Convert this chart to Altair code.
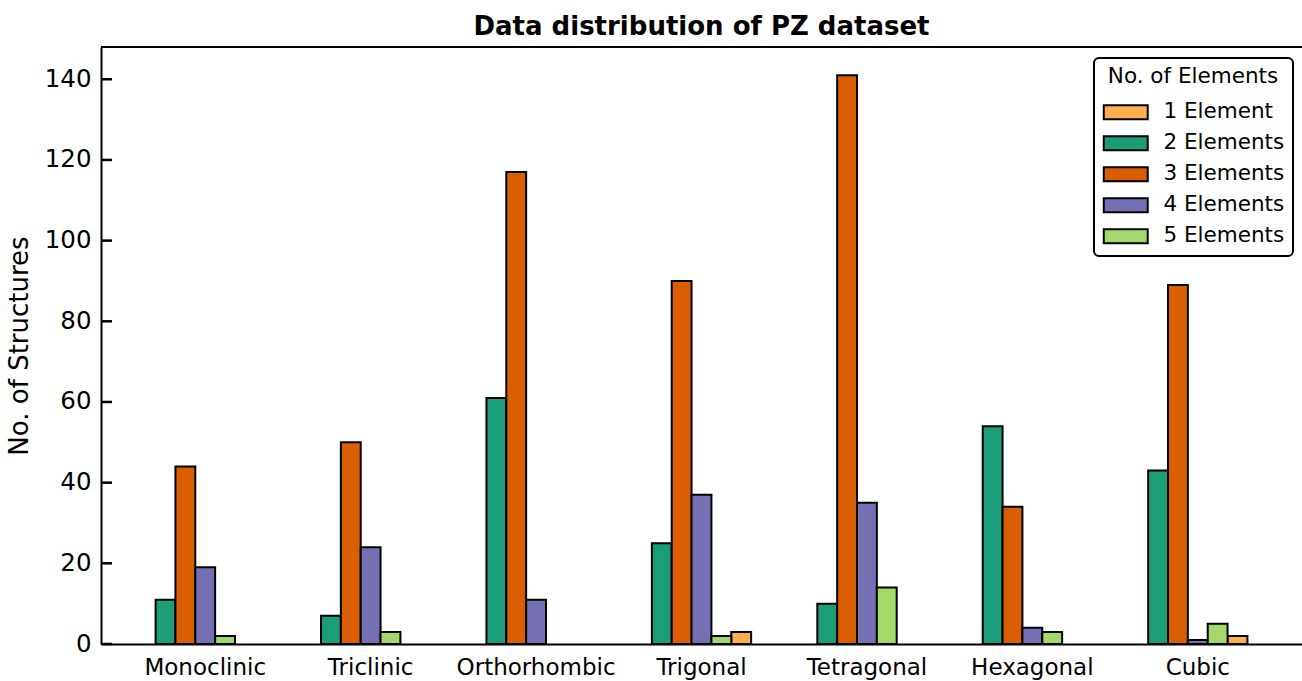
import altair as alt
import pandas as pd

categories = ["Monoclinic", "Triclinic", "Orthorhombic", "Trigonal", "Tetragonal", "Hexagonal", "Cubic"]
series = ["1 Element", "2 Elements", "3 Elements", "4 Elements", "5 Elements"]
one_el = [0, 0, 0, 3, 0, 0, 2]
two_el = [11, 7, 61, 25, 10, 54, 43]
three_el = [44, 50, 117, 90, 141, 34, 89]
four_el = [19, 24, 11, 37, 35, 4, 1]
five_el = [2, 3, 0, 2, 14, 3, 5]
colors = ["#fdb04b", "#1b9e77", "#d95f02", "#7570b3", "#a3d86a"]
bar_order = ["2 Elements", "3 Elements", "4 Elements", "5 Elements", "1 Element"]
y_ticks = [0, 20, 40, 60, 80, 100, 120, 140]

rows = []
for s, vals in zip(series, [one_el, two_el, three_el, four_el, five_el]):
    for c, v in zip(categories, vals):
        rows.append({"system": c, "elements": s, "count": v})
df = pd.DataFrame(rows)

W, H = 1201, 597
yscale = alt.Scale(domain=[0, 148], nice=False, zero=True)
yaxis = alt.Axis(title="No. of Structures", values=y_ticks, ticks=False,
                 labelPadding=10, labelFontSize=24.5, titleFontSize=26,
                 titleFontWeight="normal", titlePadding=12, grid=False,
                 domainColor="black", domainWidth=2, labelColor="black",
                 titleColor="black")

bars = alt.Chart(df).transform_filter("datum.count > 0").mark_bar(
    stroke="black", strokeWidth=2).encode(
    x=alt.X("system:N", sort=categories,
            scale=alt.Scale(paddingInner=0.4, paddingOuter=0.33),
            axis=alt.Axis(title=None, labelAngle=0, ticks=False, labelPadding=12,
                          labelFontSize=23, domainColor="black", domainWidth=2,
                          labelColor="black")),
    xOffset=alt.XOffset("elements:N", sort=bar_order,
                        scale=alt.Scale(domain=bar_order, paddingInner=0, paddingOuter=0)),
    y=alt.Y("count:Q", scale=yscale, axis=yaxis),
    color=alt.Color("elements:N",
                    scale=alt.Scale(domain=series, range=colors),
                    legend=alt.Legend(title="No. of Elements", orient="none",
                                      legendX=993, legendY=11)),
)

tick_df = pd.DataFrame({"v": y_ticks})
ticks = alt.Chart(tick_df).mark_rule(color="black", strokeWidth=2.5).encode(
    y=alt.Y("v:Q", scale=yscale, axis=yaxis),
    x=alt.value(0),
    x2=alt.value(11),
)

top_line = alt.Chart(pd.DataFrame({"a": [0]})).mark_rule(color="black", strokeWidth=2).encode(
    x=alt.value(0), x2=alt.value(W), y=alt.value(0)
)

chart = alt.layer(bars, ticks, top_line).properties(
    width=W, height=H,
    title=alt.TitleParams("Data distribution of PZ dataset", fontSize=26,
                          fontWeight="bold", anchor="middle", offset=6, color="black"),
    autosize=alt.AutoSizeParams(type="none"),
    padding={"left": 101, "top": 47, "right": 0, "bottom": 37},
).configure(
    font="DejaVu Sans",
).configure_view(
    stroke=None
).configure_legend(
    strokeColor="black", strokeWidth=2, cornerRadius=5, fillColor="white",
    padding=8, titleFontSize=21.5, titleFontWeight="normal", titleColor="black",
    titleAnchor="middle", titlePadding=14,
    labelFontSize=21.5, labelColor="black", labelOffset=27, symbolOffset=13,
    symbolType="M-3.14,-1L3.14,-1L3.14,1L-3.14,1Z", symbolSize=196,
    symbolStrokeColor="black", symbolStrokeWidth=2, symbolOpacity=1,
    rowPadding=8,
)

chart.save("out.html", embed_options={"renderer": "svg", "actions": False})
